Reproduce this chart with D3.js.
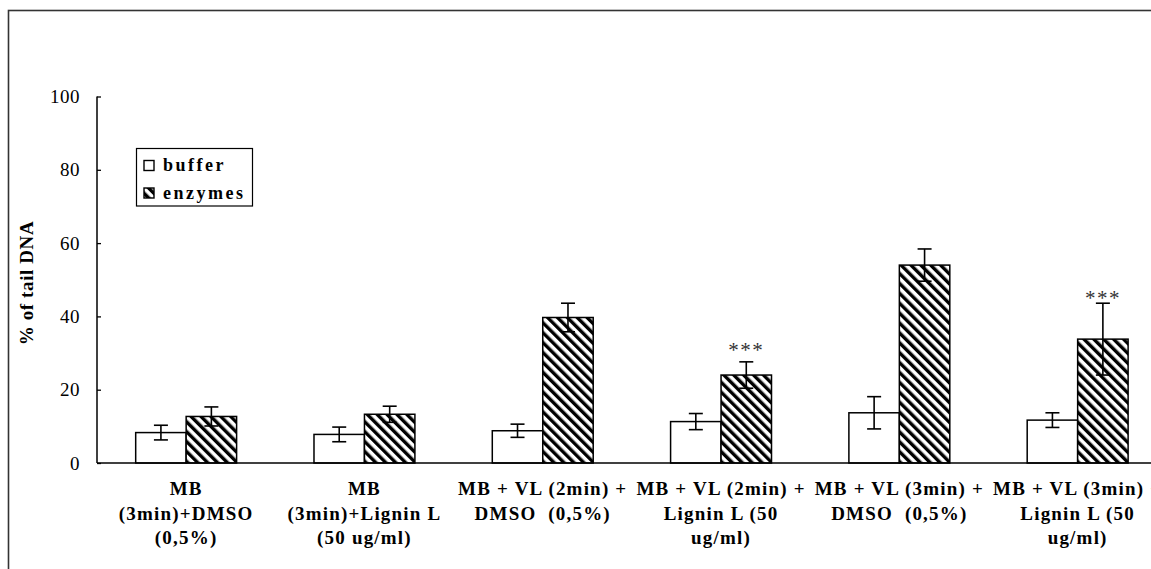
<!DOCTYPE html>
<html>
<head>
<meta charset="utf-8">
<script src="https://cdn.jsdelivr.net/npm/d3@7"></script>
<style>
  body { margin: 0; background: #fff; }
  svg { display: block; }
  svg text { font-family: "Liberation Serif", "Times New Roman", serif; }
</style>
</head>
<body>
<svg id="chart" width="1151" height="569"></svg>
<script>
const categories = ["g1", "g2", "g3", "g4", "g5", "g6"];
const categoryLabels = [
  ["MB", "(3min)+DMSO", "(0,5%)"],
  ["MB", "(3min)+Lignin L", "(50 ug/ml)"],
  ["MB + VL (2min) +", "DMSO  (0,5%)"],
  ["MB + VL (2min) +", "Lignin L (50", "ug/ml)"],
  ["MB + VL (3min) +", "DMSO  (0,5%)"],
  ["MB + VL (3min) +", "Lignin L (50", "ug/ml)"],
];
const seriesNames = ["buffer", "enzymes"];
const bufferValues = [8.3, 7.8, 8.8, 11.3, 13.7, 11.7];
const bufferErrors = [2.0, 2.0, 1.8, 2.2, 4.4, 2.0];
const enzymeValues = [12.7, 13.3, 39.7, 24.0, 54.0, 33.8];
const enzymeErrors = [2.6, 2.2, 3.9, 3.6, 4.4, 9.8];
const yTicks = [0, 20, 40, 60, 80, 100];
// significance marks: category, level (in % units) where the stars sit
const stars = [
  { category: "g4", label: "***", level: 31.4 },
  { category: "g6", label: "***", level: 45.8 },
];

const svg = d3.select("#chart");
const width = 1151;
const serif = '"Liberation Serif", "Times New Roman", serif';

// outer frame (runs off the right and bottom edges)
svg.append("rect")
  .attr("x", 8.5).attr("y", 10.5)
  .attr("width", 1300).attr("height", 700)
  .attr("fill", "none").attr("stroke", "#333").attr("stroke-width", 1.6);

const defs = svg.append("defs");
const pattern = defs.append("pattern")
  .attr("id", "hatch")
  .attr("patternUnits", "userSpaceOnUse")
  .attr("width", 7).attr("height", 7)
  .attr("patternTransform", "rotate(-45)");
pattern.append("rect").attr("width", 7).attr("height", 7).attr("fill", "#fff");
pattern.append("rect").attr("width", 3.4).attr("height", 7).attr("fill", "#000");

const x = d3.scaleBand().domain(categories).range([97, 97 + 6 * 178.3]);
const bw = x.bandwidth();
const xs = d3.scaleBand().domain(seriesNames).range([bw * 0.217, bw * 0.783]);
const y = d3.scaleLinear().domain([0, 100]).range([463, 96.5]);

const rows = categories.flatMap((c, i) => [
  { category: c, series: "buffer", value: bufferValues[i], err: bufferErrors[i] },
  { category: c, series: "enzymes", value: enzymeValues[i], err: enzymeErrors[i] },
]);

// bars
svg.append("g")
  .selectAll("rect")
  .data(rows)
  .join("rect")
  .attr("x", (d) => x(d.category) + xs(d.series))
  .attr("y", (d) => y(d.value))
  .attr("width", xs.bandwidth())
  .attr("height", (d) => y(0) - y(d.value))
  .attr("fill", (d) => (d.series === "buffer" ? "#fff" : "url(#hatch)"))
  .attr("stroke", "#000")
  .attr("stroke-width", 1.5);

// error bars
const errG = svg.append("g").attr("stroke", "#000").attr("stroke-width", 1.6);
for (const d of rows) {
  const cx = x(d.category) + xs(d.series) + xs.bandwidth() / 2;
  const y1 = y(d.value + d.err);
  const y2 = y(d.value - d.err);
  errG.append("line").attr("x1", cx).attr("x2", cx).attr("y1", y1).attr("y2", y2);
  errG.append("line").attr("x1", cx - 7).attr("x2", cx + 7).attr("y1", y1).attr("y2", y1);
  errG.append("line").attr("x1", cx - 7).attr("x2", cx + 7).attr("y1", y2).attr("y2", y2);
}

// stars
svg.append("g")
  .selectAll("text")
  .data(stars)
  .join("text")
  .attr("x", (d) => x(d.category) + xs("enzymes") + xs.bandwidth() / 2)
  .attr("y", (d) => y(d.level))
  .attr("dy", "0.45em")
  .attr("text-anchor", "middle")
  .style("font-size", "21px")
  .attr("letter-spacing", 1.5)
  .attr("fill", "#333")
  .text((d) => d.label);

// y axis
const yAxis = svg.append("g")
  .attr("transform", "translate(97,0)")
  .call(d3.axisLeft(y).tickValues(yTicks).tickSize(-4).tickPadding(17));
yAxis.select(".domain").attr("stroke", "#000").attr("stroke-width", 1.5).attr("d", `M0,${y(100)}V${y(0)}`);
yAxis.selectAll(".tick line").attr("stroke", "#000").attr("stroke-width", 1.3);
yAxis.selectAll(".tick text")
  .style("font-family", serif)
  .style("font-size", "19px")
  .attr("letter-spacing", 0.5)
  .attr("fill", "#000");

// x axis line
svg.append("line")
  .attr("x1", 97).attr("x2", width)
  .attr("y1", y(0)).attr("y2", y(0))
  .attr("stroke", "#000").attr("stroke-width", 1.6);

// category labels
const labelG = svg.append("g").attr("text-anchor", "middle");
categories.forEach((c, i) => {
  const t = labelG.append("text")
    .attr("x", x(c) + bw / 2)
    .attr("y", 495)
    .style("font-weight", "bold")
    .style("font-size", "19px")
    .attr("letter-spacing", 1.2);
  categoryLabels[i].forEach((line, j) => {
    t.append("tspan")
      .attr("x", x(c) + bw / 2)
      .attr("dy", j === 0 ? 0 : 24.5)
      .style("white-space", "pre")
      .text(line);
  });
});

// y label
svg.append("text")
  .attr("transform", "translate(33,283) rotate(-90)")
  .attr("text-anchor", "middle")
  .style("font-weight", "bold")
  .style("font-size", "19px")
  .attr("letter-spacing", 0.6)
  .text("% of tail DNA");

// legend
const legend = svg.append("g").attr("transform", "translate(136.5,148.5)");
legend.append("rect")
  .attr("width", 116).attr("height", 57.5)
  .attr("fill", "#fff").attr("stroke", "#000").attr("stroke-width", 1.2);
seriesNames.forEach((name, i) => {
  const gy = 12 + i * 27.5;
  legend.append("rect")
    .attr("x", 7.5).attr("y", gy)
    .attr("width", 10).attr("height", 10)
    .attr("fill", name === "buffer" ? "#fff" : "url(#hatch)")
    .attr("stroke", "#000").attr("stroke-width", 1.4);
  legend.append("text")
    .attr("x", 26.5).attr("y", gy + 10.5)
    .style("font-weight", "bold")
    .style("font-size", "18px")
    .attr("letter-spacing", 2.5)
    .text(name);
});
</script>
</body>
</html>
